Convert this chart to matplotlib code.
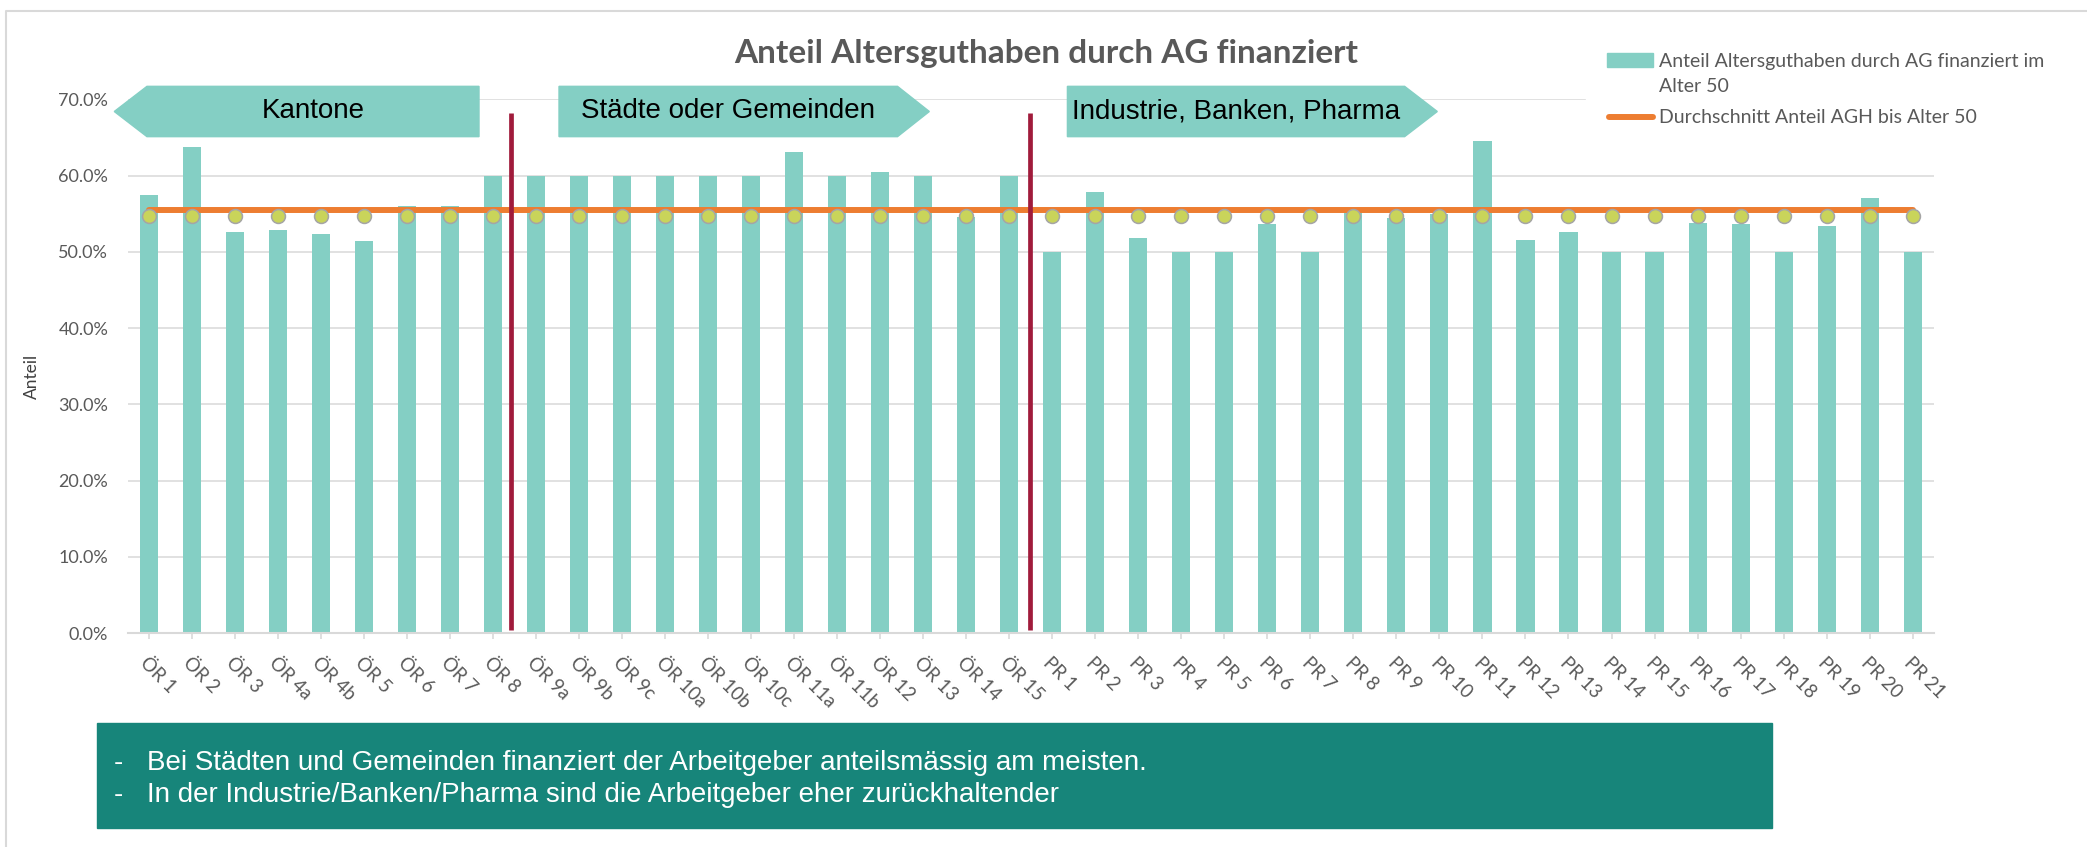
import matplotlib
matplotlib.use("Agg")
import matplotlib.pyplot as plt
from matplotlib.patches import Polygon, Rectangle
from matplotlib.lines import Line2D
import matplotlib.ticker as ticker

# ---------------------------------------------------------------------------
# Data
# ---------------------------------------------------------------------------
categories = [
    "ÖR 1", "ÖR 2", "ÖR 3", "ÖR 4a", "ÖR 4b", "ÖR 5", "ÖR 6", "ÖR 7", "ÖR 8",
    "ÖR 9a", "ÖR 9b", "ÖR 9c", "ÖR 10a", "ÖR 10b", "ÖR 10c", "ÖR 11a", "ÖR 11b",
    "ÖR 12", "ÖR 13", "ÖR 14", "ÖR 15",
    "PR 1", "PR 2", "PR 3", "PR 4", "PR 5", "PR 6", "PR 7", "PR 8", "PR 9", "PR 10",
    "PR 11", "PR 12", "PR 13", "PR 14", "PR 15", "PR 16", "PR 17", "PR 18", "PR 19",
    "PR 20", "PR 21",
]
ag_share = [
    0.574, 0.637, 0.526, 0.529, 0.523, 0.514, 0.560, 0.560, 0.600,
    0.600, 0.600, 0.600, 0.600, 0.600, 0.600, 0.631, 0.600,
    0.604, 0.600, 0.546, 0.600,
    0.500, 0.579, 0.518, 0.500, 0.500, 0.536, 0.500, 0.552, 0.544, 0.549,
    0.645, 0.515, 0.526, 0.500, 0.500, 0.538, 0.537, 0.500, 0.534,
    0.570, 0.500,
]
avg_share = 0.555      # Durchschnitt Anteil AGH bis Alter 50
dot_share = 0.547      # marker series (no legend entry)

y_ticks = [0.0, 0.1, 0.2, 0.3, 0.4, 0.5, 0.6, 0.7]

# group banners: (label, rect start, rect end, arrow tip)
banners = [
    ("Kantone", -0.05, 7.67, -0.81),
    ("Städte oder Gemeinden", 9.53, 17.40, 18.14),
    ("Industrie, Banken, Pharma", 21.35, 29.19, 29.95),
]
divider_pos = [8.41, 20.47]

title = "Anteil Altersguthaben durch AG finanziert"
legend_bar = ["Anteil Altersguthaben durch AG finanziert im", "Alter 50"]
legend_line = "Durchschnitt Anteil AGH bis Alter 50"
notes = [
    "Bei Städten und Gemeinden finanziert der Arbeitgeber anteilsmässig am meisten.",
    "In der Industrie/Banken/Pharma sind die Arbeitgeber eher zurückhaltender",
]

# ---------------------------------------------------------------------------
# Style
# ---------------------------------------------------------------------------
TEAL = "#84CFC4"
ORANGE = "#ED7D31"
DOT = "#C9D45A"
RED = "#A01B3B"
BOX = "#17857A"
GREY_TXT = "#595959"
GRID = "#D9D9D9"

W, H = 2087, 847
fig = plt.figure(figsize=(W / 100, H / 100), dpi=100)


def fx(px):
    return px / W


def fy(py):
    return 1 - py / H


ax = fig.add_axes([fx(127.6), fy(633), fx(1934.1 - 127.6), (633 - 99.3) / H])

x = list(range(len(categories)))
ax.bar(x, ag_share, width=0.42, color=TEAL, zorder=2)
ax.plot(x, [avg_share] * len(x), color=ORANGE, lw=4.3, solid_capstyle="round", zorder=3)
ax.plot(x, [dot_share] * len(x), ls="none", marker="o", ms=10,
        mfc=DOT, mec="#A5A5A5", mew=1.1, zorder=4)
ax.vlines(divider_pos, 0.004, 0.682, color=RED, lw=3.4, zorder=5)

ax.set_xlim(-0.5, len(x) - 0.5)
ax.set_ylim(0, 0.7)
ax.set_yticks(y_ticks)
ax.yaxis.set_major_formatter(ticker.FuncFormatter(lambda v, _: f"{v * 100:.1f}%"))
ax.grid(axis="y", color=GRID, lw=1.1, zorder=0)
ax.set_axisbelow(True)
for s in ("left", "right", "top"):
    ax.spines[s].set_visible(False)
ax.spines["bottom"].set_color(GRID)
ax.spines["bottom"].set_linewidth(1.5)

ax.set_xticks(x)
ax.set_xticklabels(categories, rotation=-45, ha="left", va="top",
                   rotation_mode="anchor", fontsize=13.5, color=GREY_TXT,
                   family="Lato")
ax.tick_params(axis="x", length=4, color=GRID, width=1.2, pad=11)
ax.tick_params(axis="y", length=0, pad=14, labelsize=13, labelcolor=GREY_TXT)
for lab in ax.get_yticklabels():
    lab.set_family("Lato")

ax.set_ylabel("Anteil", fontsize=12.5, color="#404040", family="Lato")
ax.yaxis.set_label_coords(-0.0485, 0.48)

# banners above the plot
for label, x0, x1, tip in banners:
    y0, y1 = 0.651, 0.717
    ym = (y0 + y1) / 2
    if tip < x0:
        pts = [(tip, ym), (x0, y1), (x1, y1), (x1, y0), (x0, y0)]
    else:
        pts = [(x0, y0), (x0, y1), (x1, y1), (tip, ym), (x1, y0)]
    ax.add_patch(Polygon(pts, closed=True, color=TEAL, clip_on=False, zorder=6))
    ax.text((x0 + x1) / 2, ym, label, ha="center", va="center", fontsize=20,
            family="Liberation Sans", color="black", zorder=7, clip_on=False)

# title
fig.text(fx(1046), fy(62.7), title, ha="center", va="baseline", fontsize=24,
         fontweight="bold", color=GREY_TXT, family="Lato")

# legend (drawn by hand to match the layout)
fig.patches.append(Rectangle((fx(1586), fy(135)), fx(2087 - 1586), 100 / H,
                             transform=fig.transFigure, color="white", zorder=1))
fig.patches.append(Rectangle((fx(1607), fy(67)), fx(46), 14 / H,
                             transform=fig.transFigure, color=TEAL, zorder=2))
fig.lines.append(Line2D([fx(1609), fx(1653)], [fy(116.7), fy(116.7)],
                        transform=fig.transFigure, color=ORANGE, lw=4.3,
                        solid_capstyle="round", zorder=2))
for i, line in enumerate(legend_bar):
    fig.text(fx(1659), fy(66.7 + i * 25), line, ha="left", va="baseline",
             fontsize=14, color=GREY_TXT, family="Lato")
fig.text(fx(1659), fy(122.7), legend_line, ha="left", va="baseline",
         fontsize=14, color=GREY_TXT, family="Lato")

# comment box
fig.patches.append(Rectangle((fx(96.7), fy(828.3)), fx(1771.6 - 96.7),
                             (828.3 - 722.7) / H, transform=fig.transFigure,
                             color=BOX, zorder=1))
for i, note in enumerate(notes):
    yb = fy(770 + i * 31.7)
    fig.text(fx(114), yb, "-", ha="left", va="baseline", fontsize=20,
             color="white", family="Liberation Sans")
    fig.text(fx(146.7), yb, note, ha="left", va="baseline", fontsize=20,
             color="white", family="Liberation Sans")

# outer frame
fig.lines.append(Line2D([fx(6), fx(6), fx(2087)], [fy(847), fy(11), fy(11)],
                        transform=fig.transFigure, color=GRID, lw=1.5))

fig.savefig("out.png", dpi=100)
